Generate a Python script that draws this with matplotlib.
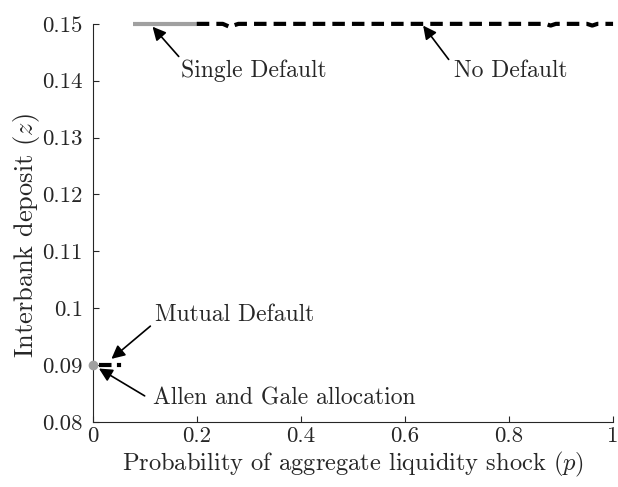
import matplotlib
matplotlib.use("Agg")
import matplotlib.pyplot as plt
import numpy as np

plt.rcParams['font.family'] = 'serif'
plt.rcParams['font.serif'] = ['cmr10']
plt.rcParams['mathtext.fontset'] = 'cm'
plt.rcParams['axes.unicode_minus'] = False

# Data
single_p = [0.077, 0.2]
single_z = [0.15, 0.15]

nodef_p = [0.2, 0.22, 0.25, 0.26, 0.265, 0.27, 0.28, 0.3, 0.4, 0.5, 0.6, 0.7, 0.8, 0.87, 0.88, 0.89, 0.95, 0.96, 0.97, 1.0]
nodef_z = [0.15, 0.15, 0.15, 0.1496, 0.1494, 0.1497, 0.15, 0.15, 0.15, 0.15, 0.15, 0.15, 0.15, 0.15, 0.1497, 0.15, 0.15, 0.1497, 0.15, 0.15]

mutual_p = [0.013, 0.058]
mutual_z = [0.09, 0.09]

ag_p = [0.0]
ag_z = [0.09]

xticks = [0, 0.2, 0.4, 0.6, 0.8, 1]
xticklabels = ['0', '0.2', '0.4', '0.6', '0.8', '1']
yticks = [0.08, 0.09, 0.1, 0.11, 0.12, 0.13, 0.14, 0.15]
yticklabels = ['0.08', '0.09', '0.1', '0.11', '0.12', '0.13', '0.14', '0.15']

fig = plt.figure(figsize=(6.18, 4.87), dpi=100)
ax = fig.add_axes([0.150, 0.1335, 0.842, 0.8175])

ax.plot(single_p, single_z, color='#a0a0a0', lw=3, solid_capstyle='butt', clip_on=False)
ax.plot(nodef_p, nodef_z, color='black', lw=3, ls=(0, (3, 1.7)), clip_on=False)
ax.plot(mutual_p, mutual_z, color='black', lw=3, ls=(0, (3, 1.3, 1, 1.3)), clip_on=False)
ax.plot(ag_p, ag_z, 'o', color='#a0a0a0', ms=6, clip_on=False, zorder=5)

ax.set_xlim(0, 1)
ax.set_ylim(0.08, 0.15)
ax.set_xticks(xticks)
ax.set_xticklabels(xticklabels)
ax.set_yticks(yticks)
ax.set_yticklabels(yticklabels)
ax.spines['top'].set_visible(False)
ax.spines['right'].set_visible(False)
for s in ['left', 'bottom']:
    ax.spines[s].set_color('#262626')
    ax.spines[s].set_linewidth(0.8)
ax.tick_params(direction='in', length=4, labelsize=16.5, colors='#262626', labelcolor='#262626')
ax.tick_params(axis='y', pad=7)
ax.tick_params(axis='x', pad=3)

ax.set_xlabel('Probability of aggregate liquidity shock $(p)$', fontsize=17.6, color='#262626', labelpad=3)
ax.set_ylabel('Interbank deposit $(z)$', fontsize=19, color='#262626')
ax.yaxis.set_label_coords(-0.097, 0.467)

ap = dict(arrowstyle='-|>', color='black', lw=1.2, mutation_scale=20)
fs = 17
ax.annotate('Single Default', xy=(0.115, 0.1495), xytext=(0.17, 0.1418), fontsize=fs,
            color='#262626', ha='left', va='center', arrowprops=dict(ap, shrinkA=0, shrinkB=0, relpos=(0, 1)))
ax.annotate('No Default', xy=(0.635, 0.1497), xytext=(0.695, 0.1418), fontsize=fs,
            color='#262626', ha='left', va='center', arrowprops=dict(ap, shrinkA=0, shrinkB=0, relpos=(-0.05, 1)))
ax.annotate('Mutual Default', xy=(0.036, 0.0911), xytext=(0.12, 0.0988), fontsize=fs,
            color='#262626', ha='left', va='center', arrowprops=dict(ap, shrinkA=0, shrinkB=0, relpos=(-0.03, 0)))
ax.annotate('Allen and Gale allocation', xy=(0.012, 0.0894), xytext=(0.115, 0.0842), fontsize=fs,
            color='#262626', ha='left', va='center', arrowprops=dict(ap, shrinkA=0, shrinkB=0, relpos=(-0.03, 0.6)))

fig.savefig('out.png', dpi=100)
